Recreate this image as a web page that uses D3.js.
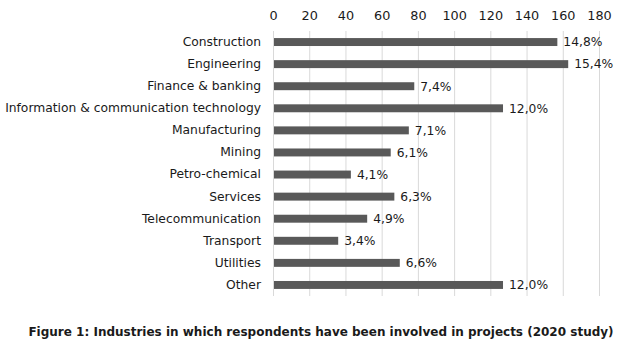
<!DOCTYPE html>
<html>
<head>
<meta charset="utf-8">
<script src="https://cdn.jsdelivr.net/npm/d3@7"></script>
<style>
  body { margin: 0; background: #fff; }
  svg text { font-family: "DejaVu Sans", sans-serif; }
</style>
</head>
<body>
<div id="main"></div>
<script>
const categories = ["Construction", "Engineering", "Finance & banking",
  "Information & communication technology", "Manufacturing", "Mining",
  "Petro-chemical", "Services", "Telecommunication", "Transport",
  "Utilities", "Other"];
const counts = [157, 163, 78, 127, 75, 65, 43, 67, 52, 36, 70, 127];
const percentLabels = ["14,8%", "15,4%", "7,4%", "12,0%", "7,1%", "6,1%",
  "4,1%", "6,3%", "4,9%", "3,4%", "6,6%", "12,0%"];
const xTicks = [0, 20, 40, 60, 80, 100, 120, 140, 160, 180];
const caption = "Figure 1: Industries in which respondents have been involved in projects (2020 study)";

const ctx = {
    width: 618,
    height: 346,
    margin: {top: 31, right: 19, bottom: 50, left: 273}
};

const svg = d3.select("#main").append("svg")
    .attr("width", ctx.width)
    .attr("height", ctx.height);

const x = d3.scaleLinear()
    .domain([0, 180])
    .range([ctx.margin.left, ctx.width - ctx.margin.right]);
const y = d3.scaleBand()
    .domain(categories)
    .range([ctx.margin.top, ctx.height - ctx.margin.bottom])
    .paddingInner(0.64)
    .paddingOuter(0.32);

// gridlines
svg.append("g")
    .selectAll("line")
    .data(xTicks)
    .enter().append("line")
    .attr("x1", d => x(d) + 0.5)
    .attr("x2", d => x(d) + 0.5)
    .attr("y1", ctx.margin.top)
    .attr("y2", ctx.height - ctx.margin.bottom)
    .attr("stroke", "#d9d9d9")
    .attr("stroke-width", 1);

// top axis labels
const xAxis = d3.axisTop(x).tickValues(xTicks).tickSize(0).tickPadding(0);
const gx = svg.append("g")
    .attr("transform", "translate(0,20)")
    .call(xAxis);
gx.select(".domain").remove();
gx.selectAll("text")
    .attr("font-family", "DejaVu Sans, sans-serif")
    .attr("font-size", 12.8)
    .attr("fill", "#1a1a1a");

// category axis
const yAxis = d3.axisLeft(y).tickSize(0).tickPadding(12);
const gy = svg.append("g")
    .attr("transform", `translate(${ctx.margin.left},0)`)
    .call(yAxis);
gy.select(".domain").remove();
gy.selectAll("text")
    .attr("font-family", "DejaVu Sans, sans-serif")
    .attr("font-size", 12.3)
    .attr("fill", "#1a1a1a");

// bars
svg.append("g")
    .selectAll("rect")
    .data(categories)
    .enter().append("rect")
    .attr("x", x(0) + 1)
    .attr("y", d => y(d))
    .attr("width", (d, i) => x(counts[i]) - x(0) - 1)
    .attr("height", y.bandwidth())
    .attr("fill", "#595959");

// value labels
svg.append("g")
    .selectAll("text")
    .data(categories)
    .enter().append("text")
    .attr("x", (d, i) => x(counts[i]) + 6)
    .attr("y", d => y(d) + y.bandwidth() / 2)
    .attr("dy", "0.35em")
    .attr("font-size", 12.3)
    .attr("fill", "#1a1a1a")
    .text((d, i) => percentLabels[i]);

// caption
svg.append("text")
    .attr("x", 321)
    .attr("y", 336)
    .attr("text-anchor", "middle")
    .attr("font-size", 12)
    .attr("font-weight", "bold")
    .attr("fill", "#1a1a1a")
    .text(caption);
</script>
</body>
</html>
